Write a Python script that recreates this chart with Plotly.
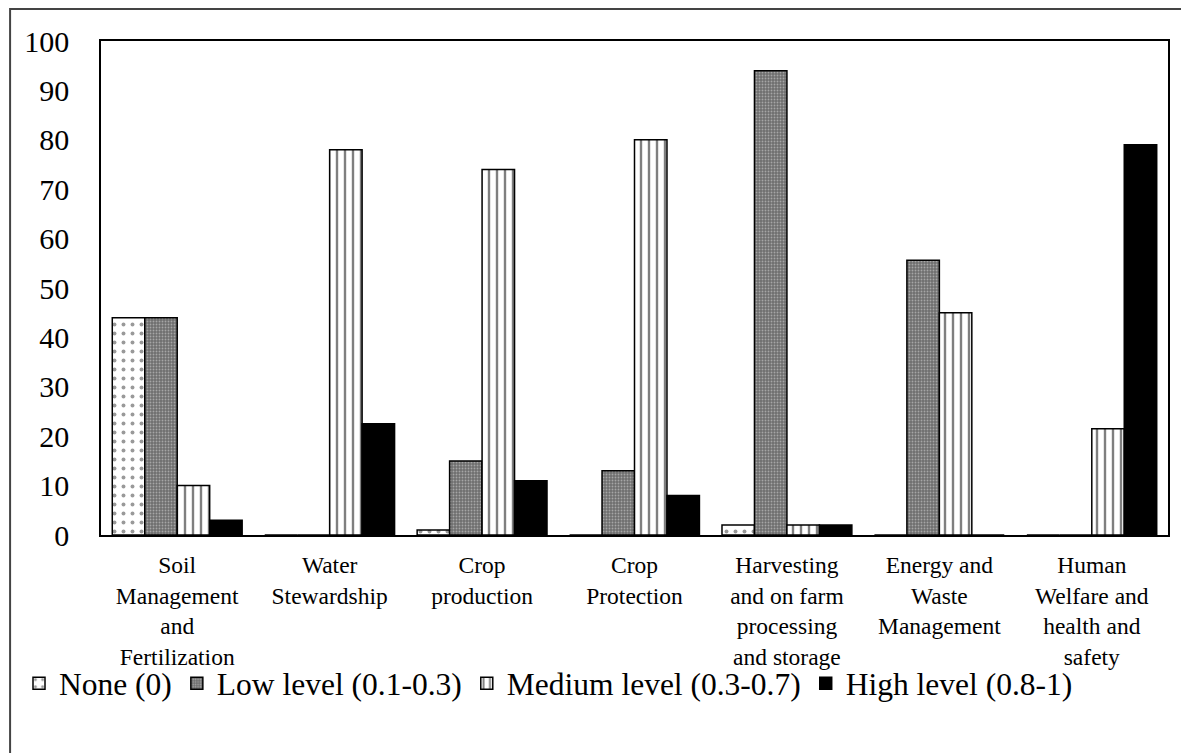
import plotly.graph_objects as go

categories = [
    "Soil<br>Management<br>and<br>Fertilization",
    "Water<br>Stewardship",
    "Crop<br>production",
    "Crop<br>Protection",
    "Harvesting<br>and on farm<br>processing<br>and storage",
    "Energy and<br>Waste<br>Management",
    "Human<br>Welfare and<br>health and<br>safety",
]
none_vals = [44, 0, 1, 0, 2, 0, 0]
low_vals = [44, 0, 15, 13, 94, 55.6, 0]
medium_vals = [10, 78, 74, 80, 2, 45, 21.5]
high_vals = [3, 22.5, 11, 8, 2, 0, 79]

series_names = ["None (0)", "Low level (0.1-0.3)", "Medium level (0.3-0.7)", "High level (0.8-1)"]

FONT = "Liberation Serif, Times New Roman, serif"

# figure is placed with the page's 8px body margin
W, H = 1181, 745
L, T, PW, PH = 92, 33, 1068, 494

fig = go.Figure()
fig.add_bar(
    x=categories, y=none_vals, name=series_names[0],
    marker=dict(color="white", line=dict(color="black", width=1.5),
                pattern=dict(shape=".", fgcolor="#333", bgcolor="white", size=9, solidity=0.15)),
)
fig.add_bar(
    x=categories, y=low_vals, name=series_names[1],
    marker=dict(color="#7a7a7a", line=dict(color="black", width=1.5),
                pattern=dict(shape=".", fgcolor="#dddddd", bgcolor="#6e6e6e", size=3, solidity=0.3)),
)
fig.add_bar(
    x=categories, y=medium_vals, name=series_names[2],
    marker=dict(color="white", line=dict(color="black", width=1.5),
                pattern=dict(shape="|", fgcolor="black", bgcolor="white", size=8, solidity=0.3)),
)
fig.add_bar(
    x=categories, y=high_vals, name=series_names[3],
    marker=dict(color="black", line=dict(color="black", width=1.5)),
)

fig.update_layout(
    width=W, height=H,
    paper_bgcolor="white", plot_bgcolor="white",
    margin=dict(l=L, r=W - L - PW, t=T, b=H - T - PH),
    barmode="group", bargap=0.148, bargroupgap=0,
    font=dict(family=FONT, size=23, color="black"),
    showlegend=True,
    legend=dict(orientation="h", x=(11 - L) / PW, xanchor="left", y=-0.30, yanchor="middle",
                font=dict(family=FONT, size=31.5, color="black"),
                itemwidth=30, tracegroupgap=0, bgcolor="rgba(0,0,0,0)"),
    shapes=[dict(type="rect", xref="paper", yref="paper",
                 x0=(1 - L) / PW, x1=1.5, y0=-2, y1=(T - 1) / PH + 1,
                 line=dict(color="#444", width=2), fillcolor="rgba(0,0,0,0)", layer="below")],
)
fig.update_yaxes(range=[0, 100], dtick=10, showgrid=False, zeroline=False,
                 showline=True, linecolor="black", linewidth=1.5, mirror=True,
                 ticks="", ticklabelstandoff=24,
                 tickfont=dict(family=FONT, size=30, color="black"))
fig.update_xaxes(showgrid=False, showline=True, linecolor="black", linewidth=1.5, mirror=True,
                 ticks="", tickangle=0, ticklabelstandoff=8,
                 tickfont=dict(family=FONT, size=23.5, color="black"))

fig.write_html("out.html")
